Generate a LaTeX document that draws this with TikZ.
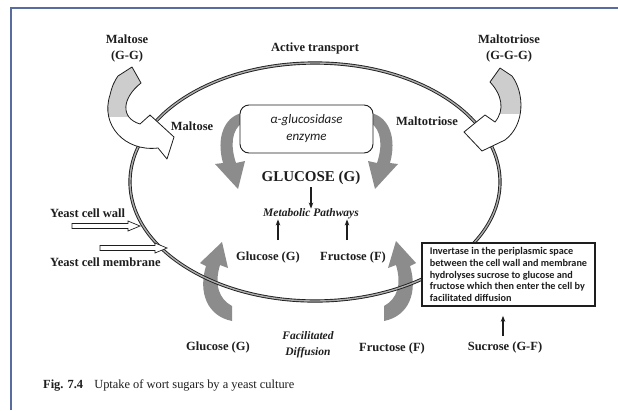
\documentclass[tikz,border=0pt]{standalone}
\usepackage{fontspec}
\setmainfont{Liberation Serif}
\newfontfamily\carl{Carlito}
\usetikzlibrary{arrows.meta}
\definecolor{frameblue}{RGB}{88,108,158}
\definecolor{arrgray}{RGB}{140,140,140}
\definecolor{tailgray}{RGB}{205,205,205}
\definecolor{ink}{RGB}{30,30,30}
\newcommand\lwarrow{(118,76) -- (132,67) -- (141,83) .. controls (122,98) and (120,118) .. (140,124) -- (150,115) -- (174,137) -- (167,159) -- (158,148) .. controls (125,152) and (100,125) .. (110,95) .. controls (112,86) and (115,80) .. (118,76) -- cycle}
\newcommand\rwarrow{(490,82) -- (500,68) -- (512,76) .. controls (524,92) and (526,124) .. (505,140) -- (482,151) -- (464,132) -- (485,115) -- (495,122) .. controls (505,110) and (502,95) .. (490,82) -- cycle}
\begin{document}
\begin{tikzpicture}[x=1pt,y=-1pt,
  lbl/.style={font=\fontsize{12.5}{16}\selectfont\bfseries, text=ink, inner sep=0pt, align=center},
  ital/.style={font=\fontsize{11.5}{16}\selectfont\bfseries\itshape, text=ink, inner sep=0pt, align=center},
  tip/.style={-{Stealth[length=6pt,width=4.5pt]}, line width=1.2pt, ink},
  hollow/.style={draw=ink, fill=white, line width=0.7pt},
  grayarr/.style={fill=arrgray},
  cell/.style={draw=ink, double=gray!65, double distance=1.4pt, line width=0.9pt}]
\useasboundingbox (0,0) rectangle (618,410);
\fill[white] (0,0) rectangle (618,410);
% frame
\draw[frameblue, line width=1.5pt] (11,410) -- (11,8) -- (618,8);

% facilitated diffusion grey arrows (below the cell line)
\fill[grayarr] (232,321) .. controls (207,316) and (198,292) .. (206,266) -- (200,263) -- (222,242) -- (228,268) -- (220,265) .. controls (214,285) and (219,299) .. (232,306) -- cycle;
\fill[grayarr] (384,321) .. controls (409,316) and (418,292) .. (410,266) -- (416,263) -- (396,241) -- (388,268) -- (396,265) .. controls (402,285) and (397,299) .. (384,306) -- cycle;

% cell (wall + membrane)
\draw[cell] (315,182) ellipse [x radius=185pt, y radius=119pt];

% active transport white arrows
\fill[white] \lwarrow;
\begin{scope}\clip \lwarrow; \fill[tailgray] (90,50) rectangle (200,117);\end{scope}
\draw[ink, line width=0.8pt, line join=round] \lwarrow;
\fill[white] \rwarrow;
\begin{scope}\clip \rwarrow; \fill[tailgray] (440,50) rectangle (540,114);\end{scope}
\draw[ink, line width=0.8pt, line join=round] \rwarrow;

% enzyme grey arrows
\fill[grayarr] (242,113) .. controls (224,117) and (216,138) .. (223,163) -- (215,164) -- (238,189) -- (245,161) -- (236,163) .. controls (230,145) and (232,130) .. (242,123) -- cycle;
\fill[grayarr] (371,113) .. controls (389,117) and (397,138) .. (390,163) -- (398,164) -- (375,189) -- (368,161) -- (377,163) .. controls (383,145) and (381,130) .. (371,123) -- cycle;

% enzyme box
\node[draw=ink, line width=0.9pt, rounded corners=9pt, fill=white, minimum width=133pt, minimum height=48pt, align=center,
      font=\carl\itshape\fontsize{13}{17}\selectfont, text=ink] (enz) at (306.5,129) {α-glucosidase\\enzyme};

% labels
\node[lbl] (maltTop) at (127,48) {Maltose\\(G-G)};
\node[lbl] (triTop) at (509,48) {Maltotriose\\(G-G-G)};
\node[lbl] (active) at (315,48) {Active transport};
\node[lbl] (maltIn) at (192,126) {Maltose};
\node[lbl] (triIn) at (427,121) {Maltotriose};
\node[lbl, font=\fontsize{15}{16}\selectfont\bfseries] (gluc) at (311,178) {GLUCOSE (G)};
\node[ital] (metab) at (311,214) {Metabolic Pathways};
\node[lbl] (gIn) at (268,257) {Glucose (G)};
\node[lbl] (fIn) at (353,257) {Fructose (F)};
\node[lbl] (gOut) at (218,347) {Glucose (G)};
\node[ital] (facil) at (308,345) {Facilitated\\Diffusion};
\node[lbl] (fOut) at (392,348) {Fructose (F)};
\node[lbl] (suc) at (505,347) {Sucrose (G-F)};
\node[lbl, anchor=west] (wall) at (50,213) {Yeast cell wall};
\node[lbl, anchor=west] (memb) at (50,262) {Yeast cell membrane};

% invertase box
\node[draw=ink, line width=1.7pt, fill=white, minimum width=173pt, minimum height=63pt, align=left,
      font=\carl\bfseries\fontsize{10.2}{11.7}\selectfont, text=ink] (inv) at (508.5,274.5)
  {Invertase in the periplasmic space\\between the cell wall and membrane\\hydrolyses sucrose to glucose and\\fructose which then enter the cell by\\facilitated diffusion};

% connectors
\coordinate (gUp) at (278,240);
\coordinate (fUp) at (347,240);
\draw[tip] (gluc.south) ++(0,2) coordinate (gs) -- (gs |- metab.north);
\draw[tip] (gUp) -- (gUp |- metab.south);
\draw[tip] (fUp) -- (fUp |- metab.south);
\draw[tip, shorten >=9pt] (suc.north) ++(-2,-5) coordinate (ss) -- (ss |- inv.south);

% hollow pointer arrows
\draw[hollow] (72,223.5) -- (128,223.5) -- (128,221) -- (140,226) -- (128,231) -- (128,228.5) -- (72,228.5) -- cycle;
\draw[hollow] (100,245.5) -- (155,245.5) -- (155,243) -- (167,248) -- (155,253) -- (155,250.5) -- (100,250.5) -- cycle;

% caption
\node[anchor=west, inner sep=0pt, font=\fontsize{12.4}{16}\selectfont, text=ink] (cap) at (43,385) {\textbf{Fig. 7.4}\hspace{0.9em}Uptake of wort sugars by a yeast culture};
\end{tikzpicture}
\end{document}
